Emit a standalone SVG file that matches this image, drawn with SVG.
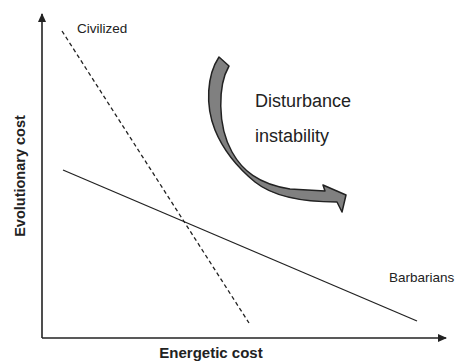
<svg xmlns="http://www.w3.org/2000/svg" width="464" height="363" viewBox="0 0 464 363">
<defs>
<style>
.ax{stroke:#222;stroke-width:1.6;fill:none}
.ln{stroke:#222;stroke-width:1.3;fill:none}
.dash{stroke-dasharray:4,3}
.lbl{font-family:"Liberation Sans",Arial,sans-serif;fill:#222}
.bold{font-weight:bold}
</style>
<marker id="ah" markerWidth="10" markerHeight="10" refX="8" refY="4" orient="auto" markerUnits="userSpaceOnUse">
<path d="M0,0 L9,4 L0,8 Z" fill="#222"/>
</marker>
</defs>
<rect width="464" height="363" fill="#fff"/>
<g id="connectors">
<line class="ax" x1="42" y1="338" x2="42" y2="14" marker-end="url(#ah)"/>
<line class="ax" x1="42" y1="338" x2="446" y2="338" marker-end="url(#ah)"/>
<line class="ln dash" x1="62" y1="31" x2="249" y2="323"/>
<line class="ln" x1="63" y1="170" x2="417" y2="321"/>
</g>
<g id="civilized"><text class="lbl" x="77" y="33" font-size="13.5">Civilized</text></g>
<g id="barbarians"><text class="lbl" x="389" y="282" font-size="13.5">Barbarians</text></g>
<g id="xlabel"><text class="lbl bold" x="211" y="358" font-size="15" text-anchor="middle">Energetic cost</text></g>
<g id="ylabel"><text class="lbl bold" transform="translate(25,176) rotate(-90)" font-size="14.5" text-anchor="middle">Evolutionary cost</text></g>
<g id="disturbance">
<path d="M219,57 L229,66 C218,85 217,125 232,152 C242,170 258,184 290,189 L325,191 L323,185 L346,195 L342,212 L337,202 C305,202 275,198 255,182 C238,168 224,152 215,130 C205,105 207,75 219,57 Z" fill="#808080" stroke="#222" stroke-width="1.5" stroke-linejoin="round"/>
<text class="lbl" x="255" y="107" font-size="18">Disturbance</text>
<text class="lbl" x="255" y="142" font-size="18">instability</text>
</g>
</svg>
